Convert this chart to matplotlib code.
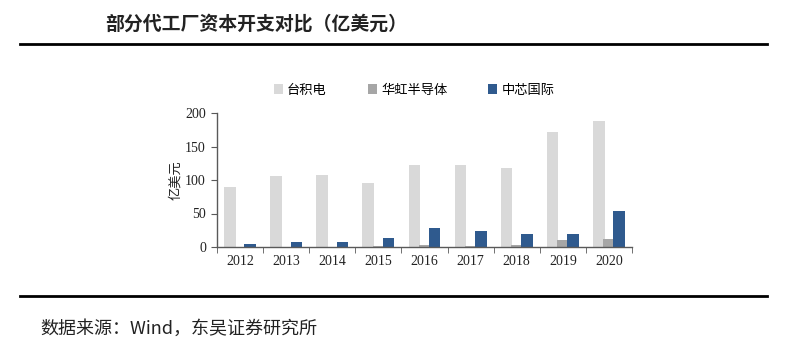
import numpy as np
import matplotlib.pyplot as plt
from matplotlib.lines import Line2D

plt.rcParams['font.family'] = ['Noto Sans CJK SC', 'DejaVu Sans']

# Capital expenditure of selected foundries (100 million USD)
YEARS = ['2012', '2013', '2014', '2015', '2016', '2017', '2018', '2019', '2020']
TSMC = [90, 106, 107, 96, 122, 123, 118, 171, 188]
HUAHONG = [0.4, 0.4, 0.5, 2, 2.5, 1.5, 3, 10, 12]
SMIC = [5, 8, 7, 13, 29, 24, 19, 19, 54]
SERIES_NAMES = ['台积电', '华虹半导体', '中芯国际']
COLORS = ['#d9d9d9', '#a6a6a6', '#2f5a8e']

fig = plt.figure(figsize=(8, 3.55), dpi=100)

# Title and header / footer rules
fig.text(105 / 800, 1 - 24 / 355, '部分代工厂资本开支对比（亿美元）',
         fontsize=13.6, fontweight='bold', va='center', ha='left', color='#222222')
fig.add_artist(Line2D([20 / 800, 767 / 800], [1 - 44 / 355] * 2, color='black', lw=2))
fig.add_artist(Line2D([20 / 800, 767 / 800], [1 - 296 / 355] * 2, color='black', lw=2))
fig.text(40 / 800, 1 - 329 / 355, '数据来源：Wind，东吴证券研究所',
         fontsize=13, va='center', ha='left', color='#222222')

ax = fig.add_axes([217 / 800, 1 - 247 / 355, (632 - 217) / 800, (247 - 113) / 355])

x = np.arange(len(YEARS))
width = 0.25
offsets = [-0.22, 0.0, 0.22]
for vals, name, color, off in zip([TSMC, HUAHONG, SMIC], SERIES_NAMES, COLORS, offsets):
    ax.bar(x + off, vals, width=width, color=color, label=name, zorder=2)

ax.set_xlim(-0.5, len(YEARS) - 0.5)
ax.set_ylim(0, 200)
ax.set_yticks([0, 50, 100, 150, 200])
ax.set_xticks(x)
ax.set_xticklabels(YEARS)
ax.set_xticks(np.arange(-0.5, len(YEARS)), minor=True)
ax.tick_params(axis='x', which='major', length=0, pad=6)
ax.tick_params(axis='x', which='minor', length=4, direction='out', color='#595959')
ax.tick_params(axis='y', length=4, direction='out', color='#595959', pad=4)
for lbl in ax.get_xticklabels() + ax.get_yticklabels():
    lbl.set_fontfamily('Liberation Serif')
    lbl.set_fontsize(10)
    lbl.set_color('#222222')

for side in ['top', 'right']:
    ax.spines[side].set_visible(False)
for side in ['left', 'bottom']:
    ax.spines[side].set_color('#595959')
    ax.spines[side].set_linewidth(1)

ax.set_ylabel('亿美元', fontsize=9.5, color='#222222', labelpad=2)

ax.legend(loc='center', bbox_to_anchor=(0.475, 1.17), ncol=3, frameon=False,
          fontsize=9.5, handlelength=0.7, handleheight=0.7, handletextpad=0.3,
          columnspacing=3.1)

fig.savefig('out.png', dpi=100)
